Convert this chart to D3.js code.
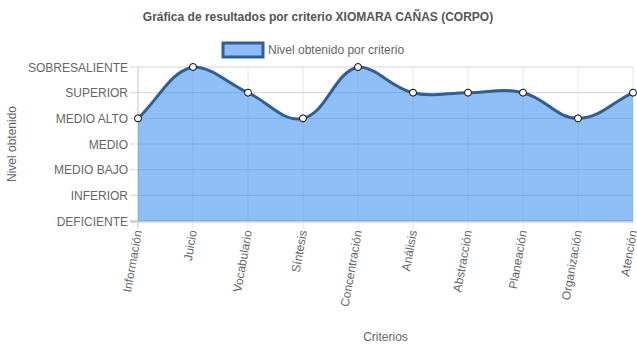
<!DOCTYPE html>
<html>
<head>
<meta charset="utf-8">
<script src="https://cdn.jsdelivr.net/npm/d3@7"></script>
<style>
  body { margin: 0; background: #fff; }
  text { font-family: "Liberation Sans", Arial, sans-serif; }
</style>
</head>
<body>
<svg id="chart" width="637" height="348"></svg>
<script>
// data
var criterios = ["Información", "Juicio", "Vocabulario", "Síntesis", "Concentración",
    "Análisis", "Abstracción", "Planeación", "Organización", "Atención"];
var niveles = ["DEFICIENTE", "INFERIOR", "MEDIO BAJO", "MEDIO", "MEDIO ALTO", "SUPERIOR", "SOBRESALIENTE"];
var valores = [4, 6, 5, 4, 6, 5, 5, 5, 4, 5];

var svg = d3.select("#chart");
var areaLeft = 138, areaRight = 633, areaTop = 67, areaBottom = 221;

var x = d3.scalePoint().domain(criterios).range([areaLeft, areaRight]);
var y = d3.scaleLinear().domain([0, niveles.length - 1]).range([areaBottom, areaTop]);

// title
svg.append("text")
    .attr("x", 318).attr("y", 21)
    .attr("text-anchor", "middle")
    .style("font-size", "12px").style("font-weight", "bold")
    .attr("fill", "#555")
    .text("Gráfica de resultados por criterio XIOMARA CAÑAS (CORPO)");

// legend
svg.append("rect")
    .attr("x", 223).attr("y", 43).attr("width", 40).attr("height", 14)
    .attr("fill", "#8ebcf5").attr("stroke", "#2f5f98").attr("stroke-width", 3);
svg.append("text")
    .attr("x", 268).attr("y", 54)
    .style("font-size", "12px").attr("fill", "#666")
    .text("Nivel obtenido por criterio");

// grid
var grid = svg.append("g");
grid.selectAll(".vg").data(criterios).enter().append("line")
    .attr("x1", d => x(d)).attr("x2", d => x(d))
    .attr("y1", areaTop).attr("y2", areaBottom + 8)
    .attr("stroke", "#e6e6e6").attr("stroke-width", 1);
grid.selectAll(".hg").data(niveles).enter().append("line")
    .attr("x1", areaLeft - 8).attr("x2", areaRight)
    .attr("y1", (d, i) => y(i)).attr("y2", (d, i) => y(i))
    .attr("stroke", "#d6d6d6").attr("stroke-width", 1);
grid.append("line")
    .attr("x1", areaLeft).attr("x2", areaLeft).attr("y1", areaTop).attr("y2", areaBottom + 8)
    .attr("stroke", "#d0d0d0");
grid.append("line")
    .attr("x1", areaLeft - 8).attr("x2", areaRight).attr("y1", areaBottom + 0.5).attr("y2", areaBottom + 0.5)
    .attr("stroke", "#c8c8c8").attr("stroke-width", 2);

// y tick labels
svg.append("g").selectAll("text").data(niveles).enter().append("text")
    .attr("x", areaLeft - 10).attr("y", (d, i) => y(i) + 4.5)
    .attr("text-anchor", "end")
    .style("font-size", "12px").attr("fill", "#666")
    .text(d => d);

// x tick labels
svg.append("g").selectAll("text").data(criterios).enter().append("text")
    .attr("transform", d => "translate(" + (x(d) + 4) + "," + (areaBottom + 10) + ") rotate(-80)")
    .attr("text-anchor", "end")
    .style("font-size", "12px").attr("fill", "#666")
    .text(d => d);

// axis titles
svg.append("text")
    .attr("transform", "translate(16," + ((areaTop + areaBottom) / 2) + ") rotate(-90)")
    .attr("text-anchor", "middle")
    .style("font-size", "12px").attr("fill", "#666")
    .text("Nivel obtenido");
svg.append("text")
    .attr("x", (areaLeft + areaRight) / 2).attr("y", 341)
    .attr("text-anchor", "middle")
    .style("font-size", "12px").attr("fill", "#666")
    .text("Criterios");

// chart.js style spline (tension 0.4)
var pts = valores.map((v, i) => [x(criterios[i]), y(v)]);
function splinePath(p, close) {
    var t = 0.4, cps = [];
    p.forEach((pt, i) => {
        var prev = p[i - 1] || pt, next = p[i + 1] || pt;
        var d01 = Math.hypot(pt[0] - prev[0], pt[1] - prev[1]);
        var d12 = Math.hypot(next[0] - pt[0], next[1] - pt[1]);
        var s01 = d01 / (d01 + d12) || 0, s12 = d12 / (d01 + d12) || 0;
        var fa = t * s01, fb = t * s12;
        cps.push({
            prev: [pt[0] - fa * (next[0] - prev[0]), Math.min(areaBottom, Math.max(areaTop, pt[1] - fa * (next[1] - prev[1])))],
            next: [pt[0] + fb * (next[0] - prev[0]), Math.min(areaBottom, Math.max(areaTop, pt[1] + fb * (next[1] - prev[1])))]
        });
    });
    var path = d3.path();
    path.moveTo(p[0][0], p[0][1]);
    for (var i = 1; i < p.length; i++) {
        path.bezierCurveTo(cps[i - 1].next[0], cps[i - 1].next[1], cps[i].prev[0], cps[i].prev[1], p[i][0], p[i][1]);
    }
    if (close) {
        path.lineTo(p[p.length - 1][0], areaBottom);
        path.lineTo(p[0][0], areaBottom);
        path.closePath();
    }
    return path.toString();
}

svg.append("path")
    .attr("d", splinePath(pts, true))
    .attr("fill", "rgba(30,130,240,0.5)");
svg.append("path")
    .attr("d", splinePath(pts, false))
    .attr("fill", "none").attr("stroke", "#2f5f98").attr("stroke-width", 3);

svg.append("g").selectAll("circle").data(pts).enter().append("circle")
    .attr("cx", d => d[0]).attr("cy", d => d[1]).attr("r", 3.5)
    .attr("fill", "#fff").attr("stroke", "#000").attr("stroke-width", 1);
</script>
</body>
</html>
